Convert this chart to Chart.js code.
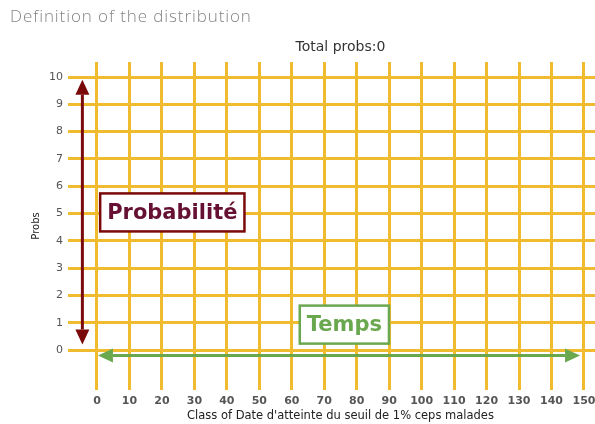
<!DOCTYPE html>
<html>
<head>
<meta charset="utf-8">
<script src="https://cdn.jsdelivr.net/npm/chart.js@4/dist/chart.umd.min.js"></script>
<style>
  html, body { margin: 0; padding: 0; background: #fff; }
  #wrap { position: relative; width: 595px; height: 424px; }
  #head {
    position: absolute; left: 10px; top: 6px;
    font: 300 17px "Open Sans", sans-serif; line-height: 20px;
    letter-spacing: 0.9px;
    color: #858585;
  }
</style>
</head>
<body>
<div id="wrap">
  <canvas id="c" width="595" height="424"></canvas>
  <div id="head">Definition of the distribution</div>
</div>
<script>
// ── Data ──────────────────────────────────────────────────────────────────
const classes = [0, 10, 20, 30, 40, 50, 60, 70, 80, 90, 100, 110, 120, 130, 140, 150];
const probs   = [0, 0, 0, 0, 0, 0, 0, 0, 0, 0, 0, 0, 0, 0, 0, 0];
const yTicks  = [0, 1, 2, 3, 4, 5, 6, 7, 8, 9, 10];
const xTitle  = "Class of Date d'atteinte du seuil de 1% ceps malades";
const yTitle  = 'Probs';
const totalProbs = probs.reduce((a, b) => a + b, 0);

const FONT = '"DejaVu Sans", sans-serif';
const GRID = '#f0bb2e';
const RED = '#7a0a0a';
const GREEN = '#6aa84f';

// ── Drawing helpers ───────────────────────────────────────────────────────

// Line with a filled triangle head at each end.
const doubleArrow = (ctx, x1, y1, x2, y2, color) => {
    const len = 15, half = 7;
    const ang = Math.atan2(y2 - y1, x2 - x1);
    const cos = Math.cos(ang), sin = Math.sin(ang);
    ctx.save();
    ctx.strokeStyle = color;
    ctx.fillStyle = color;
    ctx.lineWidth = 3;
    ctx.beginPath();
    ctx.moveTo(x1 + cos * len, y1 + sin * len);
    ctx.lineTo(x2 - cos * len, y2 - sin * len);
    ctx.stroke();
    const head = (tx, ty, dir) => {
        const bx = tx - dir * cos * len, by = ty - dir * sin * len;
        ctx.beginPath();
        ctx.moveTo(tx, ty);
        ctx.lineTo(bx - sin * half, by + cos * half);
        ctx.lineTo(bx + sin * half, by - cos * half);
        ctx.closePath();
        ctx.fill();
    };
    head(x2, y2, 1);
    head(x1, y1, -1);
    ctx.restore();
};

// White box with coloured border and bold label.
const labelBox = (ctx, cx, cy, text, border, color) => {
    ctx.save();
    ctx.font = `bold 21px ${FONT}`;
    const w = ctx.measureText(text).width + 14, h = 38;
    ctx.fillStyle = '#fff';
    ctx.fillRect(cx - w / 2, cy - h / 2, w, h);
    ctx.strokeStyle = border;
    ctx.lineWidth = 2.5;
    ctx.strokeRect(cx - w / 2, cy - h / 2, w, h);
    ctx.fillStyle = color;
    ctx.textAlign = 'center';
    ctx.textBaseline = 'middle';
    ctx.fillText(text, cx, cy + 1);
    ctx.restore();
};

const annotations = {
    id: 'annotations',
    afterDatasetsDraw(chart) {
        const { ctx, scales: { x, y } } = chart;
        const mid = x.getPixelForValue(75);

        ctx.save();
        ctx.fillStyle = '#333';
        ctx.textAlign = 'center';
        ctx.textBaseline = 'middle';
        ctx.font = `14px ${FONT}`;
        ctx.fillText('Total probs:' + totalProbs, mid, 47);
        ctx.fillStyle = '#222';
        ctx.font = `11.5px ${FONT}`;
        ctx.fillText(xTitle, mid, 416);
        ctx.restore();

        doubleArrow(ctx, x.getPixelForValue(-4.5), y.getPixelForValue(9.9),
            x.getPixelForValue(-4.5), y.getPixelForValue(0.2), RED);
        doubleArrow(ctx, x.getPixelForValue(0.3), y.getPixelForValue(-0.2),
            x.getPixelForValue(148.8), y.getPixelForValue(-0.2), GREEN);

        labelBox(ctx, x.getPixelForValue(23.2), y.getPixelForValue(5.04), 'Probabilité', RED, '#661133');
        labelBox(ctx, x.getPixelForValue(76.2), y.getPixelForValue(0.93), 'Temps', GREEN, GREEN);
    },
};

new Chart(document.getElementById('c'), {
    type: 'bar',
    data: {
        datasets: [{
            data: classes.map((c, i) => ({ x: c, y: probs[i] })),
            backgroundColor: '#4a7ebb',
            borderWidth: 0,
        }],
    },
    options: {
        responsive: false,
        animation: false,
        layout: { padding: { top: 62, left: 0, right: 0, bottom: 0 } },
        plugins: {
            legend: { display: false },
            title: { display: false },
            tooltip: { enabled: false },
        },
        scales: {
            x: {
                type: 'linear',
                offset: false,
                min: -8.93,
                max: 153.4,
                afterBuildTicks: s => { s.ticks = classes.map(v => ({ value: v })); },
                afterFit: s => { s.height = 34; s.paddingLeft = 0; s.paddingRight = 0; },
                grid: { color: GRID, lineWidth: 3, drawTicks: false, offset: false },
                border: { display: false },
                ticks: {
                    autoSkip: false, maxRotation: 0, padding: 5, color: '#555',
                    font: { family: FONT, size: 11, weight: 'bold' },
                },
            },
            y: {
                min: -1.465,
                max: 10.55,
                afterBuildTicks: s => { s.ticks = yTicks.map(v => ({ value: v })); },
                afterFit: s => { s.width = 68; s.paddingTop = 0; s.paddingBottom = 0; },
                grid: { color: GRID, lineWidth: 3, drawTicks: false },
                border: { display: false },
                ticks: {
                    autoSkip: false, padding: 5, color: '#555',
                    font: { family: FONT, size: 11 },
                },
                title: {
                    display: true, text: yTitle, color: '#222',
                    font: { family: FONT, size: 10 },
                    padding: { top: 30, bottom: 0 },
                },
            },
        },
    },
    plugins: [annotations],
});
</script>
</body>
</html>
